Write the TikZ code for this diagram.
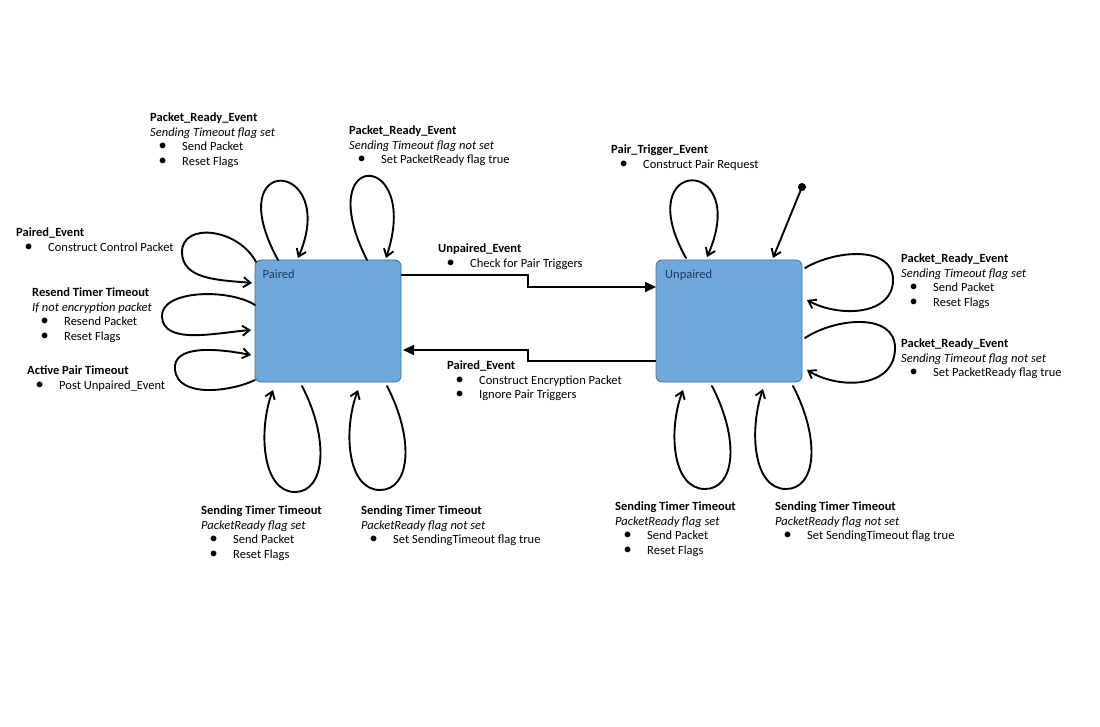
\documentclass[tikz,border=0pt]{standalone}
\usepackage{graphicx}
\usepackage{fontspec}
\setmainfont{Carlito}
\usetikzlibrary{arrows.meta}
\definecolor{statefill}{HTML}{6FA8DC}
\definecolor{stateline}{HTML}{41719C}
\definecolor{statetext}{HTML}{1F3864}
\newcommand\bul[1]{\hspace*{8.5pt}\makebox[23.5pt][l]{\scalebox{1.3}{\textbullet}}#1}
\tikzset{
  lbl/.style={anchor=base west, inner sep=0pt, align=left, font=\fontsize{12.5}{14.7}\selectfont},
  statebox/.style={anchor=north west, draw=stateline, fill=statefill, line width=0.8pt,
    rounded corners=6pt, minimum width=146pt, minimum height=122pt, inner sep=0pt, outer sep=0pt},
  statelbl/.style={anchor=base west, inner sep=0pt, text=statetext, font=\fontsize{12.5}{14.7}\selectfont},
  loopar/.style={line width=1.9pt, line cap=round, line join=round,
    -{Straight Barb[length=7pt,width=10pt]}},
  trans/.style={line width=1.9pt, -{Triangle[length=11pt,width=10pt]}},
  initdot/.style={circle, fill=black, inner sep=0pt, minimum size=8pt}
}
\begin{document}
\begin{tikzpicture}[x=1pt,y=-1pt]
\useasboundingbox (0,0) rectangle (1100,727);

% states
\node[statebox] (paired) at (255,260) {};
\node[statebox] (unpaired) at (656,260) {};
\node[statelbl] (pairedname) at (262.5,279) {Paired};
\node[statelbl] (unpairedname) at (665,279) {Unpaired};

% transitions between states
\draw[trans] ([yshift=-15pt]paired.north east) -- ++(127,0) |- ([yshift=-27pt]unpaired.north west);
\draw[trans] ([yshift=-101pt]unpaired.north west) -- ++(-128,0) |- ([xshift=2pt,yshift=-90pt]paired.north east);

% initial state
\node[initdot] (init) at (802,187) {};
\draw[loopar] (init) -- ([xshift=117pt,yshift=2pt]unpaired.north west);

% Paired self loops - top
\draw[loopar] ([xshift=23pt]paired.north west) .. controls (218,150) and (340,160) .. ([xshift=43pt,yshift=2pt]paired.north west);
\draw[loopar] ([xshift=112pt]paired.north west) .. controls (310,147) and (422,150) .. ([xshift=131pt,yshift=2pt]paired.north west);
% Paired self loops - left
\draw[loopar] ([xshift=1pt,yshift=-2pt]paired.north west) .. controls (238,228) and (182,222) .. (182,252)
   .. controls (182,280) and (220,280) .. ([xshift=-3pt,yshift=-23pt]paired.north west);
\draw[loopar] ([yshift=-45pt]paired.north west) .. controls (228,288) and (160,290) .. (162,317)
   .. controls (164,345) and (215,333) .. ([xshift=-4pt,yshift=-70pt]paired.north west);
\draw[loopar] ([yshift=2pt]paired.south west) .. controls (230,392) and (178,398) .. (175,370)
   .. controls (172,345) and (215,348) .. ([xshift=-4pt,yshift=27pt]paired.south west);
% Paired self loops - bottom
\draw[loopar] ([xshift=47pt,yshift=-4pt]paired.south west) .. controls (330,440) and (325,492) .. (295,492)
   .. controls (262,492) and (258,430) .. ([xshift=18pt,yshift=-8pt]paired.south west);
\draw[loopar] ([xshift=132pt,yshift=-4pt]paired.south west) .. controls (415,440) and (410,490) .. (380,490)
   .. controls (347,490) and (343,430) .. ([xshift=103pt,yshift=-8pt]paired.south west);

% Unpaired self loops - top
\draw[loopar] ([xshift=30pt,yshift=2pt]unpaired.north west) .. controls (628,155) and (752,155) .. ([xshift=51pt,yshift=3pt]unpaired.north west);
% Unpaired self loops - right
\draw[loopar] ([xshift=3pt,yshift=-8pt]unpaired.north east) .. controls (835,250) and (893,245) .. (893,280)
   .. controls (893,315) and (840,318) .. ([xshift=5pt,yshift=-40pt]unpaired.north east);
\draw[loopar] ([xshift=3pt,yshift=-78pt]unpaired.north east) .. controls (835,318) and (895,312) .. (895,348)
   .. controls (895,388) and (840,390) .. ([xshift=5pt,yshift=-110pt]unpaired.north east);
% Unpaired self loops - bottom
\draw[loopar] ([xshift=56pt,yshift=-4pt]unpaired.south west) .. controls (740,440) and (735,489) .. (705,489)
   .. controls (672,489) and (668,430) .. ([xshift=27pt,yshift=-8pt]unpaired.south west);
\draw[loopar] ([xshift=137pt,yshift=-4pt]unpaired.south west) .. controls (821,440) and (816,489) .. (786,489)
   .. controls (753,489) and (749,430) .. ([xshift=107pt,yshift=-7pt]unpaired.south west);

% labels (anchor = baseline of last line)
\node[lbl] (l1) at (150,165.6) {\textbf{Packet\_Ready\_Event}\\\textit{Sending Timeout flag set}\\\bul{Send Packet}\\\bul{Reset Flags}};
\node[lbl] (l2) at (349,163.9) {\textbf{Packet\_Ready\_Event}\\\textit{Sending Timeout flag not set}\\\bul{Set PacketReady flag true}};
\node[lbl] (l3) at (16,251.2) {\textbf{Paired\_Event}\\\bul{Construct Control Packet}};
\node[lbl] (l4) at (32,340.6) {\textbf{Resend Timer Timeout}\\\textit{If not encryption packet}\\\bul{Resend Packet}\\\bul{Reset Flags}};
\node[lbl] (l5) at (27,389.2) {\textbf{Active Pair Timeout}\\\bul{Post Unpaired\_Event}};
\node[lbl] (l6) at (438,267.2) {\textbf{Unpaired\_Event}\\\bul{Check for Pair Triggers}};
\node[lbl] (l7) at (447,398.9) {\textbf{Paired\_Event}\\\bul{Construct Encryption Packet}\\\bul{Ignore Pair Triggers}};
\node[lbl] (l8) at (611,168.2) {\textbf{Pair\_Trigger\_Event}\\\bul{Construct Pair Request}};
\node[lbl] (l9) at (901,306.6) {\textbf{Packet\_Ready\_Event}\\\textit{Sending Timeout flag set}\\\bul{Send Packet}\\\bul{Reset Flags}};
\node[lbl] (l10) at (901,376.9) {\textbf{Packet\_Ready\_Event}\\\textit{Sending Timeout flag not set}\\\bul{Set PacketReady flag true}};
\node[lbl] (l11) at (201,558.6) {\textbf{Sending Timer Timeout}\\\textit{PacketReady flag set}\\\bul{Send Packet}\\\bul{Reset Flags}};
\node[lbl] (l12) at (361,543.9) {\textbf{Sending Timer Timeout}\\\textit{PacketReady flag not set}\\\bul{Set SendingTimeout flag true}};
\node[lbl] (l13) at (615,554.6) {\textbf{Sending Timer Timeout}\\\textit{PacketReady flag set}\\\bul{Send Packet}\\\bul{Reset Flags}};
\node[lbl] (l14) at (775,539.9) {\textbf{Sending Timer Timeout}\\\textit{PacketReady flag not set}\\\bul{Set SendingTimeout flag true}};
\end{tikzpicture}
\end{document}
